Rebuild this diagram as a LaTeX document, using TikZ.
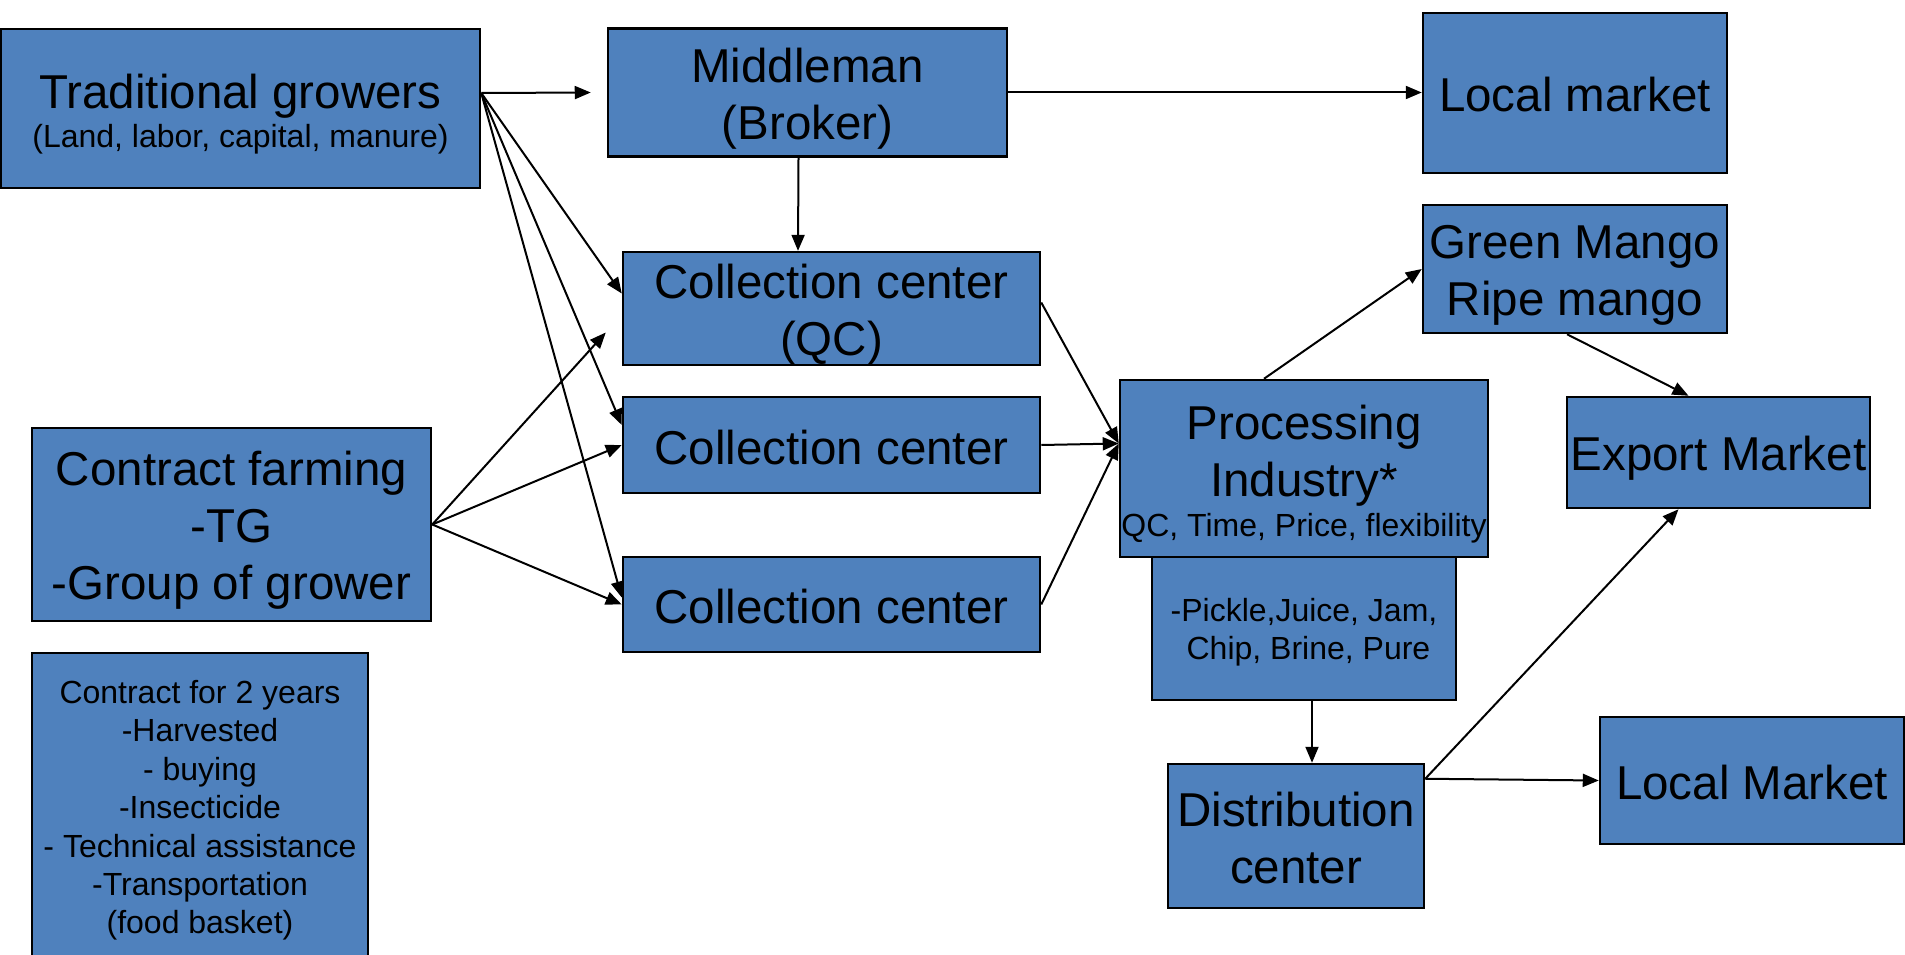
\documentclass[tikz,border=0pt]{standalone}
\usepackage{fontspec}
\setmainfont{Liberation Sans}
\usetikzlibrary{arrows.meta,calc}
\definecolor{boxblue}{RGB}{79,129,189}
\newcommand{\bigtxt}{\fontsize{47.5}{57}\selectfont}
\newcommand{\smalltxt}{\fontsize{32}{38.4}\selectfont}
\newcommand{\bstr}{\rule[-8pt]{0pt}{54pt}}
\newcommand{\sstr}{\rule[-5.4pt]{0pt}{36.4pt}}

\begin{document}
\begin{tikzpicture}[x=1pt,y=-1pt,
	box/.style={draw=black, line width=2.5pt, fill=boxblue, inner sep=0pt, align=center, font=\bigtxt},
	arr/.style={line width=2pt, -{Triangle[length=16pt,width=13pt]}}]
	\clip (0,0) rectangle (1905,955);
	\node[box, minimum width=479pt, minimum height=159pt] (tg) at (240.5,108.5)
	{\bstr Traditional growers\\[-18pt]{\smalltxt\sstr (Land, labor, capital, manure)}};
	\node[box, minimum width=399pt, minimum height=128pt] (mid) at (807.5,92.5) {\bstr Middleman\\\bstr(Broker)};
	\node[box, minimum width=304pt, minimum height=160pt] (lm1) at (1575,93) {\bstr Local market};
	\node[box, minimum width=417pt, minimum height=111pt] (cc1) at (831.5,308.5) {\bstr Collection center\\\bstr(QC)};
	\node[box, minimum width=417pt, minimum height=96pt] (cc2) at (831.5,445) {\bstr Collection center};
	\node[box, minimum width=417pt, minimum height=95pt] (cc3) at (831.5,604.5) {\bstr Collection center};
	\node[box, minimum width=399pt, minimum height=193pt] (cf) at (231.5,524.5) {\bstr Contract farming\\-TG\\\bstr-Group of grower};
	\node[box, font=\smalltxt, minimum width=336pt, minimum height=307pt] (c2y) at (200,806.5)
	{\sstr Contract for 2 years\\-Harvested\\- buying\\-Insecticide\\- Technical assistance\\-Transportation\\\sstr(food basket)};
	\node[box, minimum width=368pt, minimum height=177pt] (proc) at (1304,468.5)
	{\bstr Processing\\\bstr Industry*\\[-17pt]{\smalltxt\sstr QC, Time, Price, flexibility}};
	\node[box, font=\smalltxt, minimum width=304pt, minimum height=143pt] (pick) at (1304,628.5)
	{\sstr-Pickle,Juice, Jam,\\\sstr\ Chip, Brine, Pure};
	\node[box, minimum width=304pt, minimum height=128pt] (gm) at (1575,269) {\bstr Green Mango\\\bstr Ripe mango};
	\node[box, minimum width=303pt, minimum height=111pt] (exp) at (1718.5,452.5) {\bstr Export Market};
	\node[box, minimum width=256pt, minimum height=144pt] (dist) at (1296,836) {\bstr Distribution\\\bstr center};
	\node[box, minimum width=304pt, minimum height=127pt] (lm2) at (1752,780.5) {\bstr Local Market};

	\coordinate (tgout) at ($(tg.east)+(0,-15.5)$);
	\coordinate (midin) at ($(mid.west)+(-16,0)$);
	\coordinate (cfup) at ($(cc1.west)+(-16,24)$);
	\coordinate (procin) at ($(proc.west)+(0,-25)$);
	\coordinate (distout) at ($(dist.north east)+(0,16)$);

	\draw[arr] (tgout) -- (midin);
	\draw[arr] (mid.east) -- (mid.east -| lm1.west);
	\draw[arr] ($(mid.south)+(-9,0)$) -- ($(cc1.north)+(-33.5,0)$);
	\draw[arr] (tgout) -- ($(cc1.west)+(0,-15)$);
	\draw[arr] (tgout) -- ($(cc2.west)+(0,-20)$);
	\draw[arr] (tgout) -- ($(cc3.west)+(0,-7)$);
	\draw[arr] (cf.east) -- (cfup);
	\draw[arr] (cf.east) -- (cc2.west);
	\draw[arr] (cf.east) -- (cc3.west);
	\draw[arr] ($(cc1.east)+(0,-6)$) -- (procin);
	\draw[arr] (cc2.east) -- (procin);
	\draw[arr] (cc3.east) -- (procin);
	\draw[arr] ($(proc.north)+(-40,0)$) -- (gm.west);
	\draw[arr] ($(gm.south)+(-8,0)$) -- ($(exp.north)+(-30,0)$);
	\draw[arr] ($(pick.south)+(8,0)$) -- ($(dist.north)+(16,0)$);
	\draw[arr] (distout) -- ($(exp.south)+(-40,0)$);
	\draw[arr] (distout) -- (lm2.west);
\end{tikzpicture}
\end{document}
